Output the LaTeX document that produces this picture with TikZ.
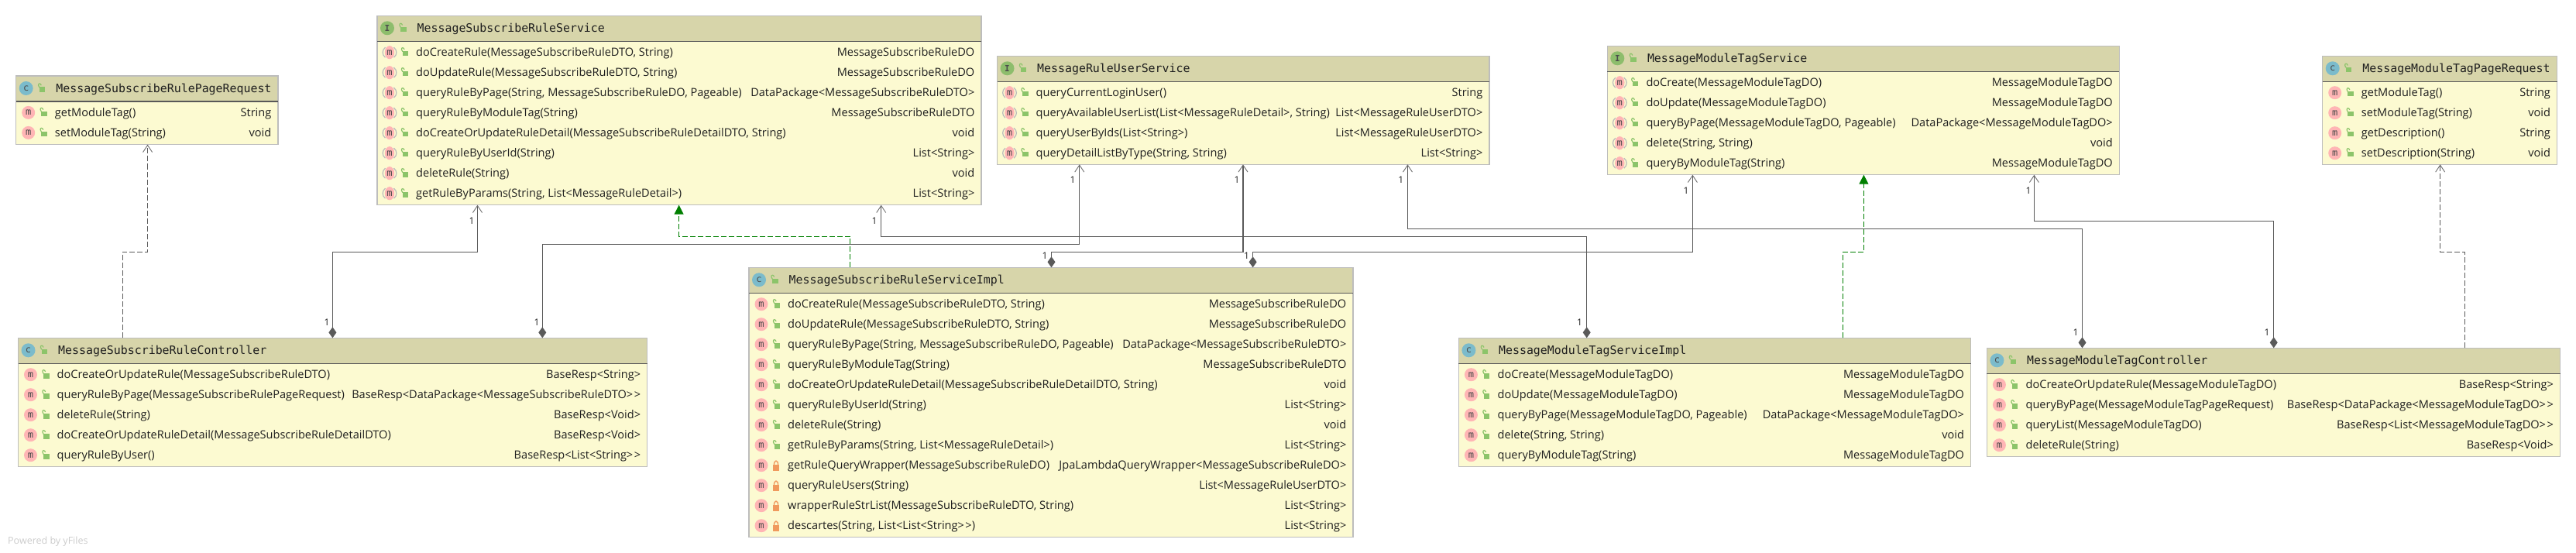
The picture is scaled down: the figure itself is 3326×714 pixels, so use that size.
\documentclass[tikz,border=0pt]{standalone}
\usepackage{fontspec}
\setmainfont{Open Sans}
\newfontfamily\monof{DejaVu Sans Mono}
\usetikzlibrary{arrows.meta}
\definecolor{hdr}{HTML}{D7D5AA}
\definecolor{bdy}{HTML}{FCFAD1}
\definecolor{edge}{HTML}{BDBDBD}
\definecolor{rule}{HTML}{585858}
\definecolor{conn}{HTML}{5A5A5A}
\definecolor{barb}{HTML}{707070}
\definecolor{pinkm}{HTML}{FFB5B5}
\definecolor{cblue}{HTML}{7BBBCB}
\definecolor{igreen}{HTML}{8DBD6C}
\definecolor{lockg}{HTML}{8CC46A}
\definecolor{locko}{HTML}{F09A5E}
\definecolor{ink}{HTML}{1E1E1E}
\definecolor{implgreen}{HTML}{007F00}
\newcounter{nid}
\newcommand\rowfont{\fontsize{14.55}{16}\selectfont\color{ink}}
\newcommand\titlefont{\fontsize{14.9}{16}\monof\color{ink}\selectfont}
\newcommand\lblfont{\fontsize{12}{14}\selectfont\color{ink}}
\newcommand\gtgt{>\kern1.5pt>}
\tikzset{
  bodybox/.style={draw=edge,line width=1.3pt,fill=bdy,anchor=north west,inner sep=0pt,outer sep=0pt},
  headbox/.style={draw=edge,line width=1.3pt,fill=hdr,anchor=north west,inner sep=0pt,outer sep=0pt},
  rowl/.style={anchor=base west,inner sep=0pt,font=\rowfont},
  rowr/.style={anchor=base east,inner sep=0pt,font=\rowfont},
  titl/.style={anchor=base west,inner sep=0pt,font=\titlefont},
  mult/.style={inner sep=0pt,font=\lblfont},
  assoc/.style={draw=conn,line width=1.05pt,
    {Diamond[width=10pt,length=14pt,fill=conn,color=conn]}-{Straight Barb[width=12pt,length=9pt,line width=0.9pt,color=barb]}},
  dep/.style={draw=conn,line width=1pt,dash pattern=on 7pt off 3pt,
    -{Straight Barb[width=12pt,length=9pt,line width=0.9pt,color=barb]}},
  impl/.style={draw=implgreen,line width=1pt,dash pattern=on 7pt off 3pt,
    -{Triangle[width=12pt,length=12pt,fill=implgreen,color=implgreen]}},
}
% lock icons, centred on (#1,#2)
\newcommand\openlock[2]{%
  \fill[lockg] (#1-2.4,#2-1.5) rectangle (#1+5,#2+4.8);
  \draw[lockg,line width=1.2pt] (#1-2.2,#2-1) -- (#1-3.6,#2-3.8) .. controls (#1-3.8,#2-6.8) and (#1-0.8,#2-6.8) .. (#1+0.1,#2-3.8);}
\newcommand\shutlock[2]{%
  \fill[locko] (#1-4.2,#2-0.8) rectangle (#1+4.2,#2+7);
  \draw[locko,line width=1.4pt] (#1-2.6,#2) .. controls (#1-2.8,#2-7.5) and (#1+2.8,#2-7.5) .. (#1+2.6,#2);}
% class box: name, x1, y1, x2, y2, kind (c or I), title
\newcommand\umlbox[7]{%
  \pgfmathsetmacro\bw{#4-#2}\pgfmathsetmacro\bh{#5-#3}%
  \def\bn{#1}\def\bxa{#2}\def\bxb{#4}\def\bkind{#6}%
  \pgfmathsetmacro\cury{#3+47.4}%
  \node[bodybox,minimum width=\bw pt,minimum height=\bh pt] (#1) at (#2,#3) {};
  \node[headbox,minimum width=\bw pt,minimum height=33pt] (#1-h) at (#2,#3) {};
  \draw[rule,line width=1.3pt] (#1-h.south west) -- (#1-h.south east);
  \pgfmathsetmacro\ix{#2+13}\pgfmathsetmacro\iy{#3+16}%
  \pgfmathsetmacro\lx{#2+32.5}\pgfmathsetmacro\tx{#2+51.5}\pgfmathsetmacro\ty{#3+21.3}%
  \if#6I\fill[igreen] (\ix,\iy) circle (9pt);
  \node[inner sep=0pt,font=\fontsize{11}{12}\monof\bfseries\color{black!70}] (#1-k) at (\ix,\iy) {I};
  \else\fill[cblue] (\ix,\iy) circle (9pt);
  \node[inner sep=0pt,font=\fontsize{12}{12}\monof\color{black!70}] (#1-k) at (\ix,\iy) {c};
  \fi
  \openlock{\lx}{\iy}
  \node[titl] (#1-t) at (\tx,\ty) {#7};
}
\newcommand\mglyph{%
  \pgfmathsetmacro\mx{\bxa+16}%
  \if\bkind I%
    \fill[pinkm] (\mx,\cury) ellipse (6.2pt and 8.6pt);
    \draw[black!27,line width=1.2pt] (\mx-5.5,\cury-6.5) .. controls (\mx-10,\cury-3) and (\mx-10,\cury+3) .. (\mx-5.5,\cury+6.5);
    \draw[black!27,line width=1.2pt] (\mx+5.5,\cury-6.5) .. controls (\mx+10,\cury-3) and (\mx+10,\cury+3) .. (\mx+5.5,\cury+6.5);
  \else
    \fill[pinkm] (\mx,\cury) circle (8.5pt);
  \fi
  \stepcounter{nid}%
  \node[inner sep=0pt,font=\fontsize{12}{12}\monof\color{black!72}] (\bn-m\thenid) at (\mx,\cury) {m};
}
\newcommand\rowtext[2]{%
  \pgfmathsetmacro\rxa{\bxa+50}\pgfmathsetmacro\rxb{\bxb-8.5}\pgfmathsetmacro\rb{\cury+5}%
  \stepcounter{nid}%
  \node[rowl] (\bn-l\thenid) at (\rxa,\rb) {#1};
  \node[rowr] (\bn-r\thenid) at (\rxb,\rb) {#2};
  \pgfmathsetmacro\cury{\cury+26}%
}
\newcommand\umlrow[2]{\mglyph\pgfmathsetmacro\lckx{\bxa+35}\openlock{\lckx}{\cury}\rowtext{#1}{#2}}
\newcommand\umlpriv[2]{\mglyph\pgfmathsetmacro\lckx{\bxa+35}\shutlock{\lckx}{\cury}\rowtext{#1}{#2}}
\begin{document}
\begin{tikzpicture}[x=1pt,y=-1pt]
\fill[white] (0,0) rectangle (3326,714);
\useasboundingbox (0,0) rectangle (3326,714);

\umlbox{req}{20.7}{98}{359}{186.7}{c}{MessageSubscribeRulePageRequest}
\umlrow{getModuleTag()}{String}
\umlrow{setModuleTag(String)}{void}

\umlbox{svc}{487}{20.3}{1267}{264.7}{I}{MessageSubscribeRuleService}
\umlrow{doCreateRule(MessageSubscribeRuleDTO, String)}{MessageSubscribeRuleDO}
\umlrow{doUpdateRule(MessageSubscribeRuleDTO, String)}{MessageSubscribeRuleDO}
\umlrow{queryRuleByPage(String, MessageSubscribeRuleDO, Pageable)}{DataPackage<MessageSubscribeRuleDTO>}
\umlrow{queryRuleByModuleTag(String)}{MessageSubscribeRuleDTO}
\umlrow{doCreateOrUpdateRuleDetail(MessageSubscribeRuleDetailDTO, String)}{void}
\umlrow{queryRuleByUserId(String)}{List<String>}
\umlrow{deleteRule(String)}{void}
\umlrow{getRuleByParams(String, List<MessageRuleDetail>)}{List<String>}

\umlbox{usr}{1287.5}{72.3}{1923}{212.3}{I}{MessageRuleUserService}
\umlrow{queryCurrentLoginUser()}{String}
\umlrow{queryAvailableUserList(List<MessageRuleDetail>, String)}{List<MessageRuleUserDTO>}
\umlrow{queryUserByIds(List<String>)}{List<MessageRuleUserDTO>}
\umlrow{queryDetailListByType(String, String)}{List<String>}

\umlbox{tag}{2075.3}{59.3}{2736.4}{225.7}{I}{MessageModuleTagService}
\umlrow{doCreate(MessageModuleTagDO)}{MessageModuleTagDO}
\umlrow{doUpdate(MessageModuleTagDO)}{MessageModuleTagDO}
\umlrow{queryByPage(MessageModuleTagDO, Pageable)}{DataPackage<MessageModuleTagDO>}
\umlrow{delete(String, String)}{void}
\umlrow{queryByModuleTag(String)}{MessageModuleTagDO}

\umlbox{treq}{2998.7}{72.3}{3301.6}{212.3}{c}{MessageModuleTagPageRequest}
\umlrow{getModuleTag()}{String}
\umlrow{setModuleTag(String)}{void}
\umlrow{getDescription()}{String}
\umlrow{setDescription(String)}{void}

\umlbox{ctl}{23.5}{436.3}{835.8}{602.3}{c}{MessageSubscribeRuleController}
\umlrow{doCreateOrUpdateRule(MessageSubscribeRuleDTO)}{BaseResp<String>}
\umlrow{queryRuleByPage(MessageSubscribeRulePageRequest)}{BaseResp<DataPackage<MessageSubscribeRuleDTO\gtgt}
\umlrow{deleteRule(String)}{BaseResp<Void>}
\umlrow{doCreateOrUpdateRuleDetail(MessageSubscribeRuleDetailDTO)}{BaseResp<Void>}
\umlrow{queryRuleByUser()}{BaseResp<List<String\gtgt}

\umlbox{impl}{967}{345.3}{1747}{693.3}{c}{MessageSubscribeRuleServiceImpl}
\umlrow{doCreateRule(MessageSubscribeRuleDTO, String)}{MessageSubscribeRuleDO}
\umlrow{doUpdateRule(MessageSubscribeRuleDTO, String)}{MessageSubscribeRuleDO}
\umlrow{queryRuleByPage(String, MessageSubscribeRuleDO, Pageable)}{DataPackage<MessageSubscribeRuleDTO>}
\umlrow{queryRuleByModuleTag(String)}{MessageSubscribeRuleDTO}
\umlrow{doCreateOrUpdateRuleDetail(MessageSubscribeRuleDetailDTO, String)}{void}
\umlrow{queryRuleByUserId(String)}{List<String>}
\umlrow{deleteRule(String)}{void}
\umlrow{getRuleByParams(String, List<MessageRuleDetail>)}{List<String>}
\umlpriv{getRuleQueryWrapper(MessageSubscribeRuleDO)}{JpaLambdaQueryWrapper<MessageSubscribeRuleDO>}
\umlpriv{queryRuleUsers(String)}{List<MessageRuleUserDTO>}
\umlpriv{wrapperRuleStrList(MessageSubscribeRuleDTO, String)}{List<String>}
\umlpriv{descartes(String, List<List<String\gtgt)}{List<String>}

\umlbox{timpl}{1883.4}{436.3}{2544.6}{602.3}{c}{MessageModuleTagServiceImpl}
\umlrow{doCreate(MessageModuleTagDO)}{MessageModuleTagDO}
\umlrow{doUpdate(MessageModuleTagDO)}{MessageModuleTagDO}
\umlrow{queryByPage(MessageModuleTagDO, Pageable)}{DataPackage<MessageModuleTagDO>}
\umlrow{delete(String, String)}{void}
\umlrow{queryByModuleTag(String)}{MessageModuleTagDO}

\umlbox{tctl}{2565.4}{449.3}{3305.5}{589.3}{c}{MessageModuleTagController}
\umlrow{doCreateOrUpdateRule(MessageModuleTagDO)}{BaseResp<String>}
\umlrow{queryByPage(MessageModuleTagPageRequest)}{BaseResp<DataPackage<MessageModuleTagDO\gtgt}
\umlrow{queryList(MessageModuleTagDO)}{BaseResp<List<MessageModuleTagDO\gtgt}
\umlrow{deleteRule(String)}{BaseResp<Void>}

% connectors
\draw[dep] (158.4,0 |- ctl.north) |- (190.6,325.3) -- (190.6,0 |- req.south);
\draw[assoc] (429.4,0 |- ctl.north) |- (616.5,325.3) -- (616.5,0 |- svc.south);
\draw[assoc] (700.3,0 |- ctl.north) |- (1393.7,315.3) -- (1393.7,0 |- usr.south);
\draw[impl] (1097.5,0 |- impl.north) |- (876.6,305.3) -- (876.6,0 |- svc.south);
\draw[assoc] (1357.5,0 |- impl.north) |- (1605,325.3) -- (1605,0 |- usr.south);
\draw[assoc] (1617.6,0 |- impl.north) |- (2185.4,325.3) -- (2185.4,0 |- tag.south);
\draw[assoc] (2048.7,0 |- timpl.north) |- (1137.7,305.3) -- (1137.7,0 |- svc.south);
\draw[assoc] (2688.5,0 |- tctl.north) |- (1817.5,295.3) -- (1817.5,0 |- usr.south);
\draw[assoc] (2935.7,0 |- tctl.north) |- (2626.4,285.3) -- (2626.4,0 |- tag.south);
\draw[impl] (2379.7,0 |- timpl.north) |- (2406.4,325.3) -- (2406.4,0 |- tag.south);
\draw[dep] (3182.4,0 |- tctl.north) |- (3150.6,325.3) -- (3150.6,0 |- treq.south);

% multiplicities
\node[mult] (n1) at (609,285) {1};
\node[mult] (n2) at (422,416.7) {1};
\node[mult] (n3) at (1385,232.7) {1};
\node[mult] (n4) at (693,416.7) {1};
\node[mult] (n5) at (1597,232.7) {1};
\node[mult] (n6) at (1349,330.7) {1};
\node[mult] (n7) at (2177,246) {1};
\node[mult] (n8) at (1609.5,330.7) {1};
\node[mult] (n9) at (1129,285) {1};
\node[mult] (n10) at (2039.5,416.7) {1};
\node[mult] (n11) at (1808.7,232.7) {1};
\node[mult] (n12) at (2680,429.7) {1};
\node[mult] (n13) at (2619,246) {1};
\node[mult] (n14) at (2927,429.7) {1};

\node[anchor=base west,inner sep=0pt,font=\fontsize{12.5}{14}\selectfont\color{black!20}] (yf) at (10,702) {Powered by yFiles};
\end{tikzpicture}
\end{document}
